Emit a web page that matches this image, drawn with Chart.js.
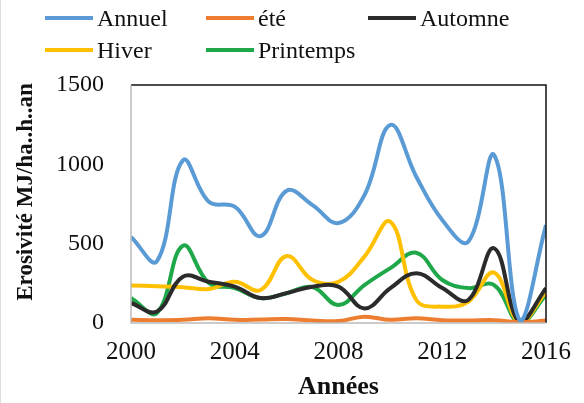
<!DOCTYPE html>
<html>
<head>
<meta charset="utf-8">
<script src="https://cdn.jsdelivr.net/npm/chart.js@4"></script>
<style>
  html, body { margin: 0; padding: 0; background: #fff; }
  body { width: 584px; height: 403px; position: relative; overflow: hidden; border-left: 1px solid #ddd; box-sizing: border-box; }
  #wrap { position: absolute; left: 0; top: 0; width: 584px; height: 403px; }
  .leg { position: absolute; font-family: 'Liberation Serif', 'Times New Roman', serif; font-size: 24px; color: #111; line-height: 24px; white-space: nowrap; }
  .leg span { display: inline-block; width: 48px; height: 4px; vertical-align: middle; margin-right: 4px; position: relative; top: -2px; }
</style>
</head>
<body>
<div id="wrap"><canvas id="chart"></canvas></div>
<div id="legend"></div>
<script>
const years = [2000, 2001, 2002, 2003, 2004, 2005, 2006, 2007, 2008, 2009, 2010, 2011, 2012, 2013, 2014, 2015, 2016];
const annuel    = [542, 390, 1025, 764, 733, 548, 834, 743, 630, 806, 1248, 922, 649, 512, 1058, 15, 617];
const ete       = [20, 18, 20, 30, 20, 22, 25, 15, 12, 40, 20, 30, 18, 15, 18, 5, 15];
const automne   = [126, 72, 292, 260, 229, 157, 188, 229, 229, 92, 220, 314, 220, 145, 471, 0, 220];
const hiver     = [236, 232, 226, 214, 260, 208, 422, 271, 260, 418, 638, 145, 103, 134, 317, 0, 197];
const printemps = [157, 63, 487, 252, 220, 157, 188, 227, 113, 239, 346, 443, 271, 220, 239, 0, 176];
const yTicks = [0, 500, 1000, 1500];
const yTitle = 'Erosivité MJ/ha..h..an';

const series = [
  { label: 'Annuel', data: annuel, color: '#5b9bd5' },
  { label: 'été', data: ete, color: '#ed7d31' },
  { label: 'Automne', data: automne, color: '#2b2b2b' },
  { label: 'Hiver', data: hiver, color: '#ffc000' },
  { label: 'Printemps', data: printemps, color: '#1fa84a' }
];

const serif = "'Liberation Serif', 'Times New Roman', serif";

// legend grid like the Excel one
const legPos = [[44, 6], [205, 6], [367, 6], [44, 38], [205, 38]];
const legend = document.getElementById('legend');
series.forEach((s, i) => {
  const d = document.createElement('div');
  d.className = 'leg';
  d.style.left = legPos[i][0] + 'px';
  d.style.top = legPos[i][1] + 'px';
  d.innerHTML = `<span style="background:${s.color}"></span>${s.label}`;
  legend.appendChild(d);
});

const borderPlugin = {
  id: 'plotBorder',
  afterDraw(chart) {
    const { ctx, chartArea: a } = chart;
    ctx.save();
    ctx.lineWidth = 1.5;
    ctx.strokeStyle = '#111';
    ctx.beginPath();
    ctx.moveTo(a.left, a.top);
    ctx.lineTo(a.right, a.top);
    ctx.lineTo(a.right, a.bottom);
    ctx.stroke();
    ctx.strokeStyle = '#bbb';
    ctx.beginPath();
    ctx.moveTo(a.left, a.top);
    ctx.lineTo(a.left, a.bottom);
    ctx.lineTo(a.right, a.bottom);
    ctx.stroke();
    // y title sits a bit above the plot centre in the original
    ctx.translate(25, a.top + (a.bottom - a.top) / 2 - 12);
    ctx.rotate(-Math.PI / 2);
    ctx.font = 'bold 23px ' + serif;
    ctx.fillStyle = '#111';
    ctx.textAlign = 'center';
    ctx.textBaseline = 'middle';
    ctx.fillText(yTitle, 0, 0);
    ctx.restore();
  }
};

new Chart(document.getElementById('chart'), {
  type: 'line',
  data: {
    datasets: series.map(s => ({
      label: s.label,
      data: years.map((y, i) => ({ x: y, y: s.data[i] })),
      borderColor: s.color,
      backgroundColor: s.color,
      borderWidth: 4,
      pointRadius: 0,
      tension: 0.4,
      fill: false
    }))
  },
  options: {
    responsive: true,
    maintainAspectRatio: false,
    animation: false,
    layout: { padding: { top: 85, right: 28, left: 0, bottom: 0 } },
    plugins: {
      legend: { display: false },
      tooltip: { enabled: false }
    },
    scales: {
      x: {
        type: 'linear',
        min: 2000,
        max: 2016,
        grid: { display: false, drawTicks: false },
        border: { display: false },
        ticks: {
          stepSize: 4,
          color: '#111',
          font: { family: serif, size: 25 },
          padding: 14,
          maxRotation: 0,
          callback: v => String(v)
        },
        title: {
          display: true,
          text: 'Années',
          color: '#111',
          font: { family: serif, size: 26, weight: 'bold' },
          padding: { top: 0, bottom: 0 }
        },
        afterFit(scale) { scale.height = 80; }
      },
      y: {
        min: 0,
        max: 1500,
        grid: { display: false, drawTicks: false },
        border: { display: false },
        afterBuildTicks(scale) { scale.ticks = yTicks.map(v => ({ value: v })); },
        ticks: {
          color: '#111',
          font: { family: serif, size: 24 },
          padding: 27,
          callback: v => String(v)
        },
        afterFit(scale) { scale.width = 130; }
      }
    }
  },
  plugins: [borderPlugin]
});
</script>
</body>
</html>
